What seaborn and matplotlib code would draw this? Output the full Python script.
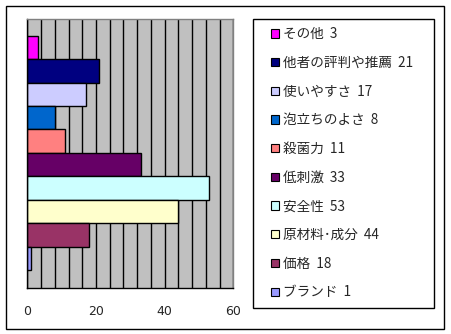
import matplotlib
matplotlib.use("Agg")
import matplotlib.pyplot as plt
from matplotlib.patches import Rectangle, Patch
from matplotlib.legend_handler import HandlerPatch
import seaborn as sns
import pandas as pd

categories = ["その他", "他者の評判や推薦", "使いやすさ", "泡立ちのよさ", "殺菌力",
              "低刺激", "安全性", "原材料･成分", "価格", "ブランド"]
values = [3, 21, 17, 8, 11, 33, 53, 44, 18, 1]
legend_labels = ["その他  3", "他者の評判や推薦  21", "使いやすさ  17", "泡立ちのよさ  8",
                 "殺菌力  11", "低刺激  33", "安全性  53", "原材料･成分  44", "価格  18", "ブランド  1"]
colors = ["#FF00FF", "#000080", "#CCCCFF", "#0066CC", "#FF8080",
          "#660066", "#CCFFFF", "#FFFFCC", "#993366", "#9999FF"]
xticks = [0, 20, 40, 60]

sns.set_style("white")
plt.rcParams["font.family"] = ["Noto Sans CJK JP", "DejaVu Sans"]

W, H = 451, 334
fig = plt.figure(figsize=(W / 100, H / 100), dpi=100)

# outer chart border
fig.patches.append(Rectangle((6 / W, (H - 329) / H), 438 / W, 323 / H,
                             transform=fig.transFigure, fill=False,
                             edgecolor="black", linewidth=1.0))

x0, x1, y0, y1 = 27.3, 233.3, 19, 288.3
ax = fig.add_axes([x0 / W, (H - y1) / H, (x1 - x0) / W, (y1 - y0) / H])

df = pd.DataFrame({"cat": categories, "val": values})
sns.barplot(data=df, y="cat", x="val", hue="cat", order=categories,
            hue_order=categories, palette=colors, saturation=1, dodge=False, width=1.0,
            edgecolor="black", linewidth=1.0, legend=False, ax=ax, orient="h")

ax.set_facecolor("#C0C0C0")
ax.set_xlim(0, 60)
ax.set_ylim(9.5 + 0.78, -0.5 - 0.71)
ax.set_xticks(xticks)
ax.set_xticks(range(0, 61, 4), minor=True)
ax.set_xticklabels([str(t) for t in xticks], fontsize=9, family="DejaVu Sans")
ax.set_yticks([])
ax.set_xlabel("")
ax.set_ylabel("")
ax.tick_params(axis="x", which="both", length=0, pad=12)
ax.grid(True, axis="x", which="both", color="black", linewidth=1.0)
ax.set_axisbelow(True)
for s in ["top", "right"]:
    ax.spines[s].set_color("#808080")
    ax.spines[s].set_linewidth(1.0)
for s in ["left", "bottom"]:
    ax.spines[s].set_color("black")
    ax.spines[s].set_linewidth(1.0)

SQ = 6.0  # square size in points (~8 px)


def square(legend, orig_handle, xdescent, ydescent, width, height, fontsize):
    return Rectangle((-xdescent + width - SQ, -ydescent + (height - SQ) / 2), SQ, SQ)


handles = [Patch(facecolor=c, edgecolor="black", linewidth=0.8) for c in colors]
leg = fig.legend(handles, legend_labels, loc="upper left",
                 bbox_to_anchor=(252.7 / W, (H - 19) / H, (434.3 - 252.7) / W, 0),
                 mode="expand", fontsize=9.8, frameon=True, fancybox=False,
                 handler_map={Patch: HandlerPatch(patch_func=square)},
                 handlelength=1.32, handleheight=0.7, handletextpad=0.3,
                 labelspacing=1.08, borderpad=0.6, borderaxespad=0,
                 edgecolor="black", framealpha=1)
leg.get_frame().set_linewidth(1.0)

fig.savefig("out.png", dpi=100, facecolor="white")
